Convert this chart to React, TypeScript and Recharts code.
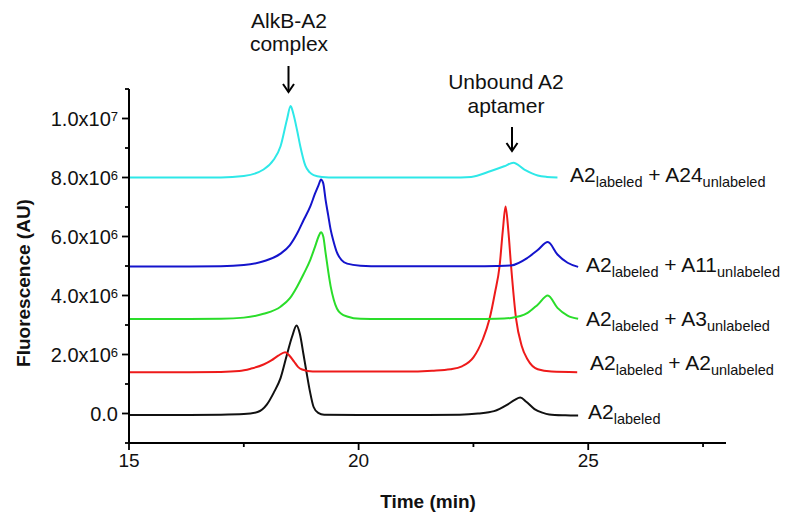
import React from 'react';
import { LineChart, Line, XAxis, YAxis } from 'recharts';

const FONT = 'Arial, "Liberation Sans", Helvetica, sans-serif';

// axis ticks (y in units of 10^6 AU)
const xTicks = [15, 17.5, 20, 22.5, 25, 27.5];
const xMajor = [15, 20, 25];
const yTicks = [-1, 0, 1, 2, 3, 4, 5, 6, 7, 8, 9, 10, 11];
const yMajor = [0, 2, 4, 6, 8, 10];

// traces: t = time (min), v = fluorescence (10^6 AU)
const traceBlack = [
  { t: 15, v: -0.05 }, { t: 16, v: -0.05 }, { t: 17, v: -0.04 }, { t: 17.5, v: -0.02 },
  { t: 17.8, v: 0.05 }, { t: 18.0, v: 0.3 }, { t: 18.15, v: 0.7 }, { t: 18.3, v: 1.2 },
  { t: 18.44, v: 2.0 }, { t: 18.55, v: 2.6 }, { t: 18.65, v: 2.98 }, { t: 18.72, v: 2.7 },
  { t: 18.8, v: 2.0 }, { t: 18.86, v: 1.45 }, { t: 18.94, v: 0.75 }, { t: 19.02, v: 0.22 },
  { t: 19.12, v: 0.02 }, { t: 19.25, v: -0.04 }, { t: 20, v: -0.05 }, { t: 21.5, v: -0.05 },
  { t: 22.2, v: -0.04 }, { t: 22.6, v: 0.0 }, { t: 22.95, v: 0.08 }, { t: 23.24, v: 0.3 },
  { t: 23.4, v: 0.46 }, { t: 23.52, v: 0.54 }, { t: 23.65, v: 0.4 }, { t: 23.83, v: 0.15 },
  { t: 24.0, v: 0.03 }, { t: 24.15, v: -0.03 }, { t: 24.5, v: -0.06 }, { t: 24.78, v: -0.07 },
];

const traceRed = [
  { t: 15, v: 1.4 }, { t: 16, v: 1.4 }, { t: 17, v: 1.41 }, { t: 17.4, v: 1.44 },
  { t: 17.65, v: 1.52 }, { t: 17.93, v: 1.66 }, { t: 18.1, v: 1.8 }, { t: 18.25, v: 1.96 },
  { t: 18.4, v: 2.08 }, { t: 18.5, v: 1.95 }, { t: 18.59, v: 1.77 }, { t: 18.68, v: 1.58 },
  { t: 18.77, v: 1.49 }, { t: 19.0, v: 1.42 }, { t: 20, v: 1.42 }, { t: 21, v: 1.42 },
  { t: 21.6, v: 1.45 }, { t: 22.0, v: 1.5 }, { t: 22.25, v: 1.6 }, { t: 22.5, v: 1.9 },
  { t: 22.7, v: 2.5 }, { t: 22.85, v: 3.2 }, { t: 22.97, v: 4.1 }, { t: 23.07, v: 5.0 },
  { t: 23.14, v: 6.2 }, { t: 23.2, v: 7.02 }, { t: 23.26, v: 6.2 }, { t: 23.32, v: 5.0 },
  { t: 23.43, v: 3.2 }, { t: 23.55, v: 2.3 }, { t: 23.68, v: 1.83 }, { t: 23.9, v: 1.5 },
  { t: 24.2, v: 1.42 }, { t: 24.76, v: 1.4 },
];

const traceGreen = [
  { t: 15, v: 3.2 }, { t: 16, v: 3.2 }, { t: 17, v: 3.21 }, { t: 17.5, v: 3.25 },
  { t: 17.93, v: 3.38 }, { t: 18.3, v: 3.62 }, { t: 18.5, v: 3.9 }, { t: 18.66, v: 4.3 },
  { t: 18.8, v: 4.72 }, { t: 18.95, v: 5.22 }, { t: 19.05, v: 5.65 }, { t: 19.13, v: 6.01 },
  { t: 19.18, v: 6.14 }, { t: 19.23, v: 6.0 }, { t: 19.28, v: 5.45 }, { t: 19.34, v: 4.8 },
  { t: 19.39, v: 4.32 }, { t: 19.46, v: 3.85 }, { t: 19.53, v: 3.55 }, { t: 19.63, v: 3.37 },
  { t: 19.75, v: 3.29 }, { t: 20.04, v: 3.21 }, { t: 20.5, v: 3.2 }, { t: 22.5, v: 3.2 },
  { t: 23.0, v: 3.21 }, { t: 23.32, v: 3.24 }, { t: 23.68, v: 3.41 }, { t: 23.9, v: 3.69 },
  { t: 24.12, v: 4.0 }, { t: 24.33, v: 3.58 }, { t: 24.55, v: 3.32 }, { t: 24.78, v: 3.21 },
];

const traceBlue = [
  { t: 15, v: 4.98 }, { t: 16, v: 4.98 }, { t: 17, v: 4.99 }, { t: 17.5, v: 5.03 },
  { t: 17.93, v: 5.16 }, { t: 18.3, v: 5.42 }, { t: 18.5, v: 5.7 }, { t: 18.66, v: 6.1 },
  { t: 18.8, v: 6.55 }, { t: 18.95, v: 7.03 }, { t: 19.05, v: 7.45 }, { t: 19.13, v: 7.75 },
  { t: 19.18, v: 7.93 }, { t: 19.23, v: 7.8 }, { t: 19.28, v: 7.25 }, { t: 19.34, v: 6.7 },
  { t: 19.39, v: 6.24 }, { t: 19.46, v: 5.8 }, { t: 19.53, v: 5.45 }, { t: 19.63, v: 5.2 },
  { t: 19.75, v: 5.08 }, { t: 20.04, v: 5.01 }, { t: 20.5, v: 4.99 }, { t: 22.5, v: 4.99 },
  { t: 23.0, v: 5.0 }, { t: 23.32, v: 5.02 }, { t: 23.68, v: 5.28 }, { t: 23.9, v: 5.54 },
  { t: 24.12, v: 5.81 }, { t: 24.33, v: 5.39 }, { t: 24.55, v: 5.11 }, { t: 24.78, v: 4.97 },
];

const traceCyan = [
  { t: 15, v: 8.0 }, { t: 16, v: 8.0 }, { t: 17, v: 8.0 }, { t: 17.5, v: 8.05 },
  { t: 17.93, v: 8.27 }, { t: 18.15, v: 8.6 }, { t: 18.3, v: 9.06 }, { t: 18.44, v: 9.97 },
  { t: 18.52, v: 10.42 }, { t: 18.58, v: 10.15 }, { t: 18.66, v: 9.6 }, { t: 18.73, v: 9.06 },
  { t: 18.84, v: 8.4 }, { t: 18.93, v: 8.18 }, { t: 19.02, v: 8.08 }, { t: 19.2, v: 8.02 },
  { t: 19.5, v: 8.0 }, { t: 22.0, v: 8.0 }, { t: 22.45, v: 8.02 }, { t: 22.88, v: 8.22 },
  { t: 23.17, v: 8.38 }, { t: 23.37, v: 8.5 }, { t: 23.61, v: 8.27 }, { t: 23.9, v: 8.07 },
  { t: 24.1, v: 8.02 }, { t: 24.33, v: 8.0 },
];

const seriesLabels = [
  { main: 'A2', sub: 'labeled', other: 'A24', otherSub: 'unlabeled' },
  { main: 'A2', sub: 'labeled', other: 'A11', otherSub: 'unlabeled' },
  { main: 'A2', sub: 'labeled', other: 'A3', otherSub: 'unlabeled' },
  { main: 'A2', sub: 'labeled', other: 'A2', otherSub: 'unlabeled' },
  { main: 'A2', sub: 'labeled', other: '', otherSub: '' },
];

const labelPos = [
  { x: 570, y: 182 },
  { x: 586, y: 272 },
  { x: 586, y: 326 },
  { x: 590, y: 370 },
  { x: 588, y: 419 },
];

const XTick = (props: any) => {
  const { x, y, payload } = props;
  const major = xMajor.includes(payload.value);
  return (
    <g>
      <line x1={x} x2={x} y1={y} y2={y + (major ? 7 : 4)} stroke="#000" strokeWidth={1.8} />
      {major && (
        <text x={x} y={y + 23.5} textAnchor="middle" fontSize={19} fontFamily={FONT} fill="#111">
          {payload.value}
        </text>
      )}
    </g>
  );
};

const YTick = (props: any) => {
  const { x, y, payload } = props;
  const v = payload.value as number;
  const major = yMajor.includes(v);
  let content: React.ReactNode = null;
  if (major) {
    if (v === 0) {
      content = '0.0';
    } else {
      const val = v * 1e6;
      const exp = Math.floor(Math.log10(val) + 1e-9);
      const mant = (val / Math.pow(10, exp)).toFixed(1);
      content = (
        <>
          {mant + 'x10'}
          <tspan dy={-5} fontSize={13}>{exp}</tspan>
        </>
      );
    }
  }
  return (
    <g>
      <line x1={x - (major ? 7 : 4)} x2={x} y1={y} y2={y} stroke="#000" strokeWidth={1.8} />
      {major && (
        <text x={x - 11} y={y + 7} textAnchor="end" fontSize={20} fontFamily={FONT} fill="#111">
          {content}
        </text>
      )}
    </g>
  );
};

const Overlay = () => (
  <svg width={800} height={519} style={{ position: 'absolute', left: 0, top: 0, pointerEvents: 'none' }}>
    <g fontFamily={FONT} fill="#111">
      <text x={289} y={28} textAnchor="middle" fontSize={21}>AlkB-A2</text>
      <text x={289} y={50.5} textAnchor="middle" fontSize={21}>complex</text>
      <text x={506} y={89} textAnchor="middle" fontSize={21}>Unbound A2</text>
      <text x={506} y={113} textAnchor="middle" fontSize={21}>aptamer</text>
      <text x={30} y={283} textAnchor="middle" fontSize={19} fontWeight="bold" transform="rotate(-90 30 283)">
        Fluorescence (AU)
      </text>
      <text x={428} y={508} textAnchor="middle" fontSize={19} fontWeight="bold">Time (min)</text>
      {seriesLabels.map((s, i) => (
        <text key={i} x={labelPos[i].x} y={labelPos[i].y} fontSize={21}>
          {s.main}
          <tspan fontSize={14.5} dy={4.5}>{s.sub}</tspan>
          {s.other && <tspan dy={-4.5}>{' + ' + s.other}</tspan>}
          {s.other && <tspan fontSize={14.5} dy={4.5}>{s.otherSub}</tspan>}
        </text>
      ))}
    </g>
    <g stroke="#000" strokeWidth={2} fill="none">
      <line x1={288.5} x2={288.5} y1={66} y2={92} />
      <polyline points="283,84 288.5,92 294,84" />
      <line x1={512} x2={512} y1={127} y2={151} />
      <polyline points="506.5,143 512,151 517.5,143" />
    </g>
  </svg>
);

export default function App() {
  const lineProps = { type: 'monotone' as const, dataKey: 'v', dot: false, isAnimationActive: false, strokeWidth: 2 };
  return (
    <div style={{ position: 'absolute', left: 0, top: 0, width: 800, height: 519, background: '#fff' }}>
      <LineChart width={800} height={519} margin={{ top: 89, right: 74, bottom: 0, left: 0 }}>
        <XAxis
          type="number"
          dataKey="t"
          domain={[15, 28]}
          ticks={xTicks}
          interval={0}
          tick={<XTick />}
          tickSize={0}
          tickMargin={0}
          tickLine={false}
          height={76}
          allowDataOverflow
          axisLine={{ stroke: '#000', strokeWidth: 2 }}
        />
        <YAxis
          type="number"
          domain={[-1, 11]}
          ticks={yTicks}
          interval={0}
          tick={<YTick />}
          tickSize={0}
          tickMargin={0}
          tickLine={false}
          width={129}
          allowDataOverflow
          axisLine={{ stroke: '#000', strokeWidth: 2 }}
        />
        <Line {...lineProps} data={traceBlack} stroke="#111111" />
        <Line {...lineProps} data={traceRed} stroke="#ee1a1a" />
        <Line {...lineProps} data={traceGreen} stroke="#2add2a" />
        <Line {...lineProps} data={traceBlue} stroke="#1414cc" />
        <Line {...lineProps} data={traceCyan} stroke="#2ee8e8" />
      </LineChart>
      <Overlay />
    </div>
  );
}
